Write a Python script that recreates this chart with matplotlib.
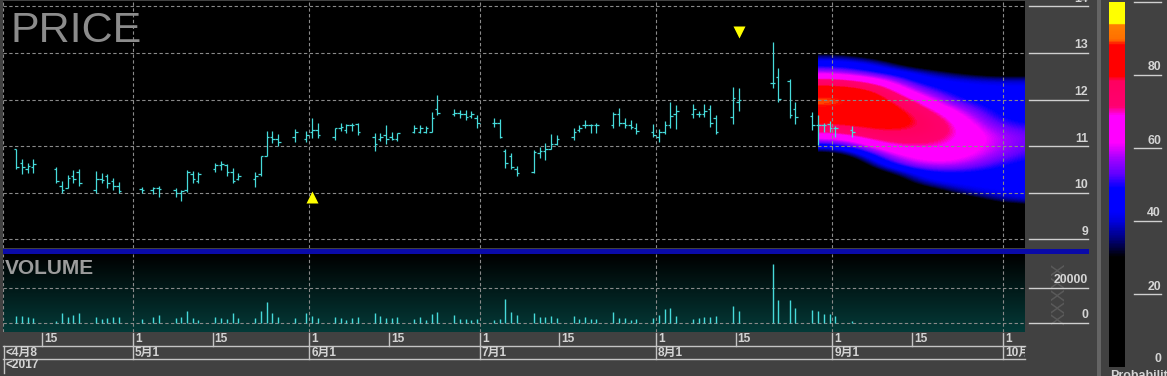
import numpy as np
import matplotlib
matplotlib.use("Agg")
import matplotlib.pyplot as plt
import matplotlib.dates as mdates
import matplotlib.transforms as mtransforms
from matplotlib.colors import LinearSegmentedColormap
from matplotlib.patches import Rectangle
from matplotlib.lines import Line2D

# ---------------- data ----------------
bar_dates = [
    "2017-04-10", "2017-04-11", "2017-04-12", "2017-04-13",
    "2017-04-17", "2017-04-18", "2017-04-19", "2017-04-20", "2017-04-21",
    "2017-04-24", "2017-04-25", "2017-04-26", "2017-04-27", "2017-04-28",
    "2017-05-02", "2017-05-04", "2017-05-05",
    "2017-05-08", "2017-05-09", "2017-05-10", "2017-05-11", "2017-05-12",
    "2017-05-15", "2017-05-16", "2017-05-17", "2017-05-18", "2017-05-19",
    "2017-05-22", "2017-05-23", "2017-05-24", "2017-05-25", "2017-05-26",
    "2017-05-29", "2017-05-31", "2017-06-01", "2017-06-02",
    "2017-06-05", "2017-06-06", "2017-06-07", "2017-06-08", "2017-06-09",
    "2017-06-12", "2017-06-13", "2017-06-14", "2017-06-15", "2017-06-16",
    "2017-06-19", "2017-06-20", "2017-06-21", "2017-06-22", "2017-06-23",
    "2017-06-26", "2017-06-27", "2017-06-28", "2017-06-29", "2017-06-30",
    "2017-07-03", "2017-07-04", "2017-07-05", "2017-07-06", "2017-07-07",
    "2017-07-10", "2017-07-11", "2017-07-12", "2017-07-13", "2017-07-14",
    "2017-07-17", "2017-07-18", "2017-07-19", "2017-07-20", "2017-07-21",
    "2017-07-24", "2017-07-25", "2017-07-26", "2017-07-27", "2017-07-28",
    "2017-07-31", "2017-08-01", "2017-08-02", "2017-08-03", "2017-08-04",
    "2017-08-07", "2017-08-08", "2017-08-09", "2017-08-10", "2017-08-11",
    "2017-08-14", "2017-08-15",
    "2017-08-21", "2017-08-22", "2017-08-24", "2017-08-25",
    "2017-08-28", "2017-08-29", "2017-08-30", "2017-08-31",
    "2017-09-01", "2017-09-04",
]
opens = [
    10.95, 10.65, 10.50, 10.55,
    10.50, 10.15, 10.10, 10.35, 10.45,
    10.05, 10.30, 10.35, 10.25, 10.15,
    10.08, 10.05, 10.10,
    10.05, 10.00, 10.05, 10.40, 10.25,
    10.50, 10.60, 10.60, 10.45, 10.30,
    10.30, 10.40, 10.80, 11.20, 11.15,
    11.20, 11.15, 11.30, 11.35,
    11.20, 11.38, 11.35, 11.45, 11.47,
    11.20, 11.15, 11.25, 11.20, 11.15,
    11.30, 11.30, 11.30, 11.30, 11.80,
    11.70, 11.72, 11.70, 11.65, 11.60,
    11.50, 11.50, 10.90, 10.80, 10.50,
    10.45, 10.85, 10.90, 10.95, 11.05,
    11.20, 11.35, 11.45, 11.45, 11.45,
    11.45, 11.70, 11.50, 11.45, 11.40,
    11.30, 11.20, 11.30, 11.45, 11.70,
    11.70, 11.70, 11.70, 11.80, 11.60,
    11.62, 11.95,
    12.36, 12.49, 12.40, 11.80,
    11.65, 11.45, 11.45, 11.48,
    11.40, 11.35,
]
highs = [
    10.95, 10.72, 10.65, 10.72,
    10.55, 10.25, 10.38, 10.48, 10.52,
    10.47, 10.42, 10.40, 10.32, 10.24,
    10.13, 10.12, 10.14,
    10.10, 10.06, 10.49, 10.47, 10.45,
    10.63, 10.68, 10.62, 10.54, 10.42,
    10.44, 10.80, 11.33, 11.33, 11.26,
    11.36, 11.32, 11.60, 11.49,
    11.40, 11.50, 11.47, 11.49, 11.49,
    11.29, 11.29, 11.45, 11.31, 11.29,
    11.45, 11.45, 11.43, 11.73, 12.10,
    11.80, 11.78, 11.78, 11.75, 11.68,
    11.60, 11.58, 10.93, 10.85, 10.57,
    10.92, 10.99, 11.06, 11.26, 11.23,
    11.40, 11.45, 11.56, 11.47, 11.50,
    11.74, 11.81, 11.61, 11.56, 11.49,
    11.47, 11.37, 11.54, 11.94, 11.88,
    11.90, 11.76, 11.90, 11.88, 11.67,
    12.26, 12.24,
    13.24, 12.67, 12.44, 11.95,
    11.74, 11.67, 11.50, 11.55,
    11.43, 11.43,
]
lows = [
    10.50, 10.40, 10.42, 10.43,
    10.20, 10.00, 10.10, 10.20, 10.15,
    10.00, 10.20, 10.10, 10.06, 10.00,
    9.99, 9.97, 9.90,
    9.92, 9.82, 10.02, 10.22, 10.22,
    10.44, 10.49, 10.37, 10.20, 10.27,
    10.13, 10.35, 10.78, 11.06, 11.00,
    11.10, 11.10, 11.18, 11.18,
    11.13, 11.33, 11.29, 11.33, 11.23,
    10.90, 11.11, 11.05, 11.13, 11.12,
    11.28, 11.28, 11.28, 11.30, 11.68,
    11.65, 11.60, 11.56, 11.60, 11.40,
    11.42, 11.18, 10.54, 10.52, 10.37,
    10.42, 10.75, 10.70, 10.94, 11.03,
    11.13, 11.30, 11.40, 11.29, 11.29,
    11.38, 11.44, 11.40, 11.37, 11.26,
    11.20, 11.10, 11.26, 11.40, 11.37,
    11.60, 11.63, 11.63, 11.42, 11.26,
    11.48, 11.76,
    12.24, 11.95, 11.60, 11.48,
    11.35, 11.03, 11.31, 11.30,
    11.20, 11.20,
]
closes = [
    10.56, 10.55, 10.58, 10.62,
    10.25, 10.05, 10.32, 10.30, 10.20,
    10.30, 10.28, 10.20, 10.15, 10.03,
    10.05, 10.10, 10.08,
    10.00, 10.03, 10.45, 10.30, 10.40,
    10.60, 10.62, 10.45, 10.25, 10.35,
    10.35, 10.78, 11.20, 11.15, 11.10,
    11.30, 11.25, 11.35, 11.25,
    11.38, 11.42, 11.45, 11.45, 11.30,
    11.05, 11.20, 11.15, 11.15, 11.28,
    11.38, 11.40, 11.40, 11.60, 11.72,
    11.72, 11.70, 11.62, 11.70, 11.50,
    11.50, 11.20, 10.65, 10.55, 10.42,
    10.88, 10.90, 10.95, 11.05, 11.15,
    11.30, 11.40, 11.45, 11.45, 11.45,
    11.70, 11.50, 11.45, 11.42, 11.32,
    11.25, 11.30, 11.45, 11.65, 11.75,
    11.80, 11.70, 11.75, 11.50, 11.30,
    12.03, 12.00,
    12.35, 12.01, 11.67, 11.62,
    11.45, 11.45, 11.45, 11.40,
    11.38, 11.30,
]
volumes = [
    3970, 3970, 3570, 2660,
    1200, 5840, 3230, 4530, 5500,
    3570, 2100, 2660, 3230, 3570,
    2100, 3230, 4530,
    2660, 3230, 6970, 2660, 1700,
    3230, 2660, 2100, 5500, 2660,
    2660, 6970, 11700, 5840, 3570,
    2660, 5840, 3970, 2660,
    3230, 2660, 1700, 2660, 3230,
    5840, 3970, 2660, 2660, 3570,
    2100, 3230, 1700, 5180, 6100,
    4530, 2100, 2100, 1700, 2100,
    1700, 2100, 13400, 6100, 4530,
    5500, 3230, 3230, 3970, 2660,
    3970, 2100, 3230, 2100, 2100,
    6100, 2660, 2660, 1700, 2100,
    2660, 4530, 8100, 8700, 4150,
    2100, 2660, 3230, 3230, 4150,
    9630, 6800,
    33300, 13000, 13000, 8300,
    7370, 6800, 5100, 5100,
    3970, 1130,
]

buy_signal_date, buy_signal_price = "2017-06-01", 9.91
sell_signal_date, sell_signal_price = "2017-08-15", 13.45

# forecast probability field (percent), columns = dates, rows = price levels
heat_dates = ["2017-09-02", "2017-09-09", "2017-09-16", "2017-09-23", "2017-09-30", "2017-10-07"]
heat_prices = [13.4, 13.2, 13.0, 12.8, 12.6, 12.4, 12.2, 12.0, 11.8, 11.6, 11.4,
               11.2, 11.0, 10.8, 10.6, 10.4, 10.2, 10.0, 9.8, 9.6, 9.4]
prob_0902 = [0, 0, 30, 44, 56, 74, 84, 91, 88, 84, 77, 66, 46, 22, 0, 0, 0, 0, 0, 0, 0]
prob_0909 = [0, 0, 15, 40, 46, 66, 80, 84, 86, 85, 82, 76, 68, 55, 44, 22, 0, 0, 0, 0, 0]
prob_0916 = [0, 0, 0, 15, 40, 45, 55, 68, 76, 80, 80, 76, 71, 66, 60, 46, 40, 12, 0, 0, 0]
prob_0923 = [0, 0, 0, 5, 28, 42, 45, 48, 58, 66, 70, 70, 68, 65, 60, 48, 44, 38, 12, 0, 0]
prob_0930 = [0, 0, 0, 0, 18, 40, 44, 45, 46, 48, 53, 58, 58, 56, 50, 46, 44, 43, 36, 8, 0]
prob_1007 = [0, 0, 0, 0, 20, 40, 44, 45, 45, 46, 50, 53, 52, 49, 46, 44, 44, 43, 40, 15, 0]

price_ticks = [9, 10, 11, 12, 13, 14]
volume_ticks = [0, 20000]
prob_ticks = [0, 20, 40, 60, 80, 100]

# ---------------- layout helpers ----------------
W, H = 1167, 376
BG = "#414141"
CYAN = "#46dada"
GRID = "#8a8a8a"
LABEL = "#d4d4d4"
FONT = ["Liberation Sans", "Noto Sans CJK SC", "DejaVu Sans"]


def rect(l, t, r, b):
    return [l / W, 1 - b / H, (r - l) / W, (b - t) / H]


def fx(px):
    return px / W


def fy(py):
    return 1 - py / H


PX_PER_DAY = 5.686
may1 = mdates.date2num(np.datetime64("2017-05-01"))
x_left = may1 - (133 - 3) / PX_PER_DAY
x_right = x_left + (1025 - 3) / PX_PER_DAY

fig = plt.figure(figsize=(W / 100, H / 100), dpi=100, facecolor=BG)

ax_p = fig.add_axes(rect(3, 1, 1025, 248))
ax_v = fig.add_axes(rect(3, 254, 1025, 332))
ax_cb = fig.add_axes(rect(1109, 2, 1125, 367))

for ax in (ax_p, ax_v, ax_cb):
    for s in ax.spines.values():
        s.set_visible(False)
    ax.set_xticks([])
    ax.set_yticks([])

ax_p.set_facecolor("black")

xd = mdates.date2num(np.array(bar_dates, dtype="datetime64[D]")) + 0.5
o = np.array(opens)
h = np.array(highs)
l = np.array(lows)
c = np.array(closes)
v = np.array(volumes)

# colormap from the reference legend
prob_cmap = LinearSegmentedColormap.from_list("prob", [
    (0.00, "#000000"), (0.30, "#000000"), (0.345, "#000070"), (0.40, "#0000e0"),
    (0.425, "#0000ff"), (0.49, "#0000ff"), (0.53, "#6400ff"), (0.57, "#a000ff"),
    (0.615, "#ff00ff"), (0.69, "#ff00ff"), (0.715, "#ff0070"), (0.785, "#ff0060"),
    (0.80, "#ff0000"), (0.885, "#ff0000"), (0.90, "#ff7000"), (0.94, "#ff8000"),
    (0.945, "#ffff00"), (1.00, "#ffff00"),
])

# ---------------- price panel ----------------
hd = mdates.date2num(np.array(heat_dates, dtype="datetime64[D]"))
hstep = hd[1] - hd[0]
pstep = heat_prices[0] - heat_prices[1]
grid = np.column_stack([prob_0902, prob_0909, prob_0916, prob_0923, prob_0930, prob_1007])
ax_p.imshow(grid, cmap=prob_cmap, vmin=0, vmax=100, interpolation="bicubic",
            extent=[hd[0] - hstep / 2, hd[-1] + hstep / 2,
                    heat_prices[-1] - pstep / 2, heat_prices[0] + pstep / 2],
            aspect="auto", origin="upper", zorder=1)

month_starts = [np.datetime64(f"2017-{m:02d}-01") for m in range(5, 11)]
ms_num = mdates.date2num(np.array(month_starts))
for ax in (ax_p, ax_v):
    for xm in ms_num:
        ax.axvline(xm, color=GRID, lw=0.8, ls=(0, (3, 2.2)), zorder=2)
    ax.axvline(x_left + 0.05, color=GRID, lw=0.8, ls=(0, (3, 2.2)), zorder=2)
for yt in price_ticks:
    ax_p.axhline(yt, color=GRID, lw=0.8, ls=(0, (3, 2.2)), zorder=2)

tw = 0.45
ax_p.vlines(xd, l, h, color=CYAN, lw=0.9, zorder=3)
ax_p.hlines(o, xd - tw, xd, color=CYAN, lw=0.9, zorder=3)
ax_p.hlines(c, xd, xd + tw, color=CYAN, lw=0.9, zorder=3)

ax_p.plot(mdates.date2num(np.datetime64(buy_signal_date)) + 0.5, buy_signal_price,
          marker="^", color="#ffff00", ms=8, mec="none", zorder=4)
ax_p.plot(mdates.date2num(np.datetime64(sell_signal_date)) + 0.5, sell_signal_price,
          marker="v", color="#ffff00", ms=8, mec="none", zorder=4)

ax_p.set_xlim(x_left, x_right)
ax_p.set_ylim(13 - (248 - 53) / 46.6, 13 + (53 - 1) / 46.6)

fig.text(fx(10), fy(42), "PRICE", family=FONT, fontsize=31, color="#8c8c8c",
         va="baseline", ha="left")

# ---------------- volume panel ----------------
vcmap = LinearSegmentedColormap.from_list("vbg", ["#000000", "#043a38"])
ax_v.imshow(np.linspace(0, 1, 128).reshape(-1, 1), cmap=vcmap, extent=(0, 1, 0, 1),
            transform=ax_v.transAxes, aspect="auto", origin="upper", zorder=0)
for yt in volume_ticks:
    ax_v.axhline(yt, color=GRID, lw=0.8, ls=(0, (3, 2.2)), zorder=2)
ax_v.vlines(xd, 0, v, color=CYAN, lw=1.0, zorder=3)
ax_v.set_xlim(x_left, x_right)
ax_v.set_ylim(-(332 - 323) / 35.3 * 20000, (323 - 254) / 35.3 * 20000)
fig.text(fx(5), fy(274), "VOLUME", family=FONT, fontsize=15, weight="bold",
         color="#9c9c9c", va="baseline", ha="left")

# separator between panels
fig.add_artist(Rectangle((fx(3), fy(254)), fx(1089) - fx(3), 5 / H,
                         transform=fig.transFigure, color="#0a0aa8", lw=0))
# divider before legend
fig.add_artist(Rectangle((fx(1097), 0), 3.5 / W, 1, transform=fig.transFigure,
                         color="#646464", lw=0))

# ---------------- right value axes ----------------
def right_axis(ax, ticks, labels, x0, x1, lines=True):
    tr = mtransforms.blended_transform_factory(fig.transFigure, ax.transData)
    for t, lab in zip(ticks, labels):
        if lines:
            fig.add_artist(Line2D([fx(x0), fx(x1)], [t, t], transform=tr,
                                  color="#cfcfcf", lw=1.0))
        txt_tr = mtransforms.offset_copy(tr, fig=fig, x=0, y=1.5, units="dots")
        fig.text(fx(x1), t, lab, transform=txt_tr, ha="right", va="bottom",
                 family=FONT, fontsize=8.8, weight="bold", color=LABEL)


# faint unit watermark behind the volume scale
fig.text(fx(1060), fy(294), "XXXXX", rotation=90, ha="center", va="center",
         family=FONT, fontsize=13.5, color="#5a5a5a", zorder=0)
right_axis(ax_p, price_ticks, [str(t) for t in price_ticks], 1029, 1088)
right_axis(ax_v, volume_ticks, [str(t) for t in volume_ticks], 1029, 1088)

# ---------------- legend colour bar ----------------
ax_cb.imshow(np.linspace(100, 0, 400).reshape(-1, 1), cmap=prob_cmap, vmin=0, vmax=100,
             extent=[0, 1, 0, 100], aspect="auto", origin="upper")
ax_cb.set_xlim(0, 1)
ax_cb.set_ylim(0, 100)
tr_cb = mtransforms.blended_transform_factory(fig.transFigure, ax_cb.transData)
for t in prob_ticks:
    if t > 0:
        fig.add_artist(Line2D([fx(1134), fx(1161)], [t, t], transform=tr_cb,
                              color="#cfcfcf", lw=1.0))
    fig.text(fx(1161), t, str(t),
             transform=mtransforms.offset_copy(tr_cb, fig=fig, x=0, y=1.5, units="dots"),
             ha="right", va="bottom", family=FONT, fontsize=8.8, weight="bold", color=LABEL)
fig.text(fx(1110), fy(370.5), "Probability", ha="left", va="top", family=FONT,
         fontsize=9, weight="bold", color=LABEL)

# ---------------- date rows ----------------
tr_d = mtransforms.blended_transform_factory(ax_v.transData, fig.transFigure)
clip = mtransforms.TransformedBbox(mtransforms.Bbox([[fx(3), 0], [fx(1025), 1]]),
                                   fig.transFigure)
LINE = "#c4c4c4"


def date_text(xnum, py, s):
    t = fig.text(xnum, fy(py), s,
                 transform=mtransforms.offset_copy(tr_d, fig=fig, x=2, y=0, units="dots"),
                 ha="left", va="center", family=FONT, fontsize=8.6, weight="bold", color=LABEL)
    t.set_clip_box(clip)
    t.set_clip_on(True)


row1 = []
for m in range(4, 11):
    for d in (1, 15):
        dd = np.datetime64(f"2017-{m:02d}-{d:02d}")
        xn = mdates.date2num(dd)
        if x_left < xn < x_right:
            row1.append((xn, str(d)))
for xn, s in row1:
    fig.add_artist(Line2D([xn, xn], [fy(333), fy(346)], transform=tr_d, color=LINE, lw=1.0))
    date_text(xn, 339.5, s)

fig.add_artist(Line2D([fx(3), fx(1025)], [fy(346), fy(346)], transform=fig.transFigure, color=LINE, lw=1.0))
fig.add_artist(Line2D([fx(3), fx(1025)], [fy(359), fy(359)], transform=fig.transFigure, color=LINE, lw=1.0))
fig.add_artist(Line2D([fx(3.5), fx(3.5)], [fy(346), fy(373)], transform=fig.transFigure, color=LINE, lw=1.0))
date_text(x_left, 352.5, "<4月8")
for dd in month_starts:
    xn = mdates.date2num(dd)
    m = int(str(dd)[5:7])
    fig.add_artist(Line2D([xn, xn], [fy(346), fy(359)], transform=tr_d, color=LINE, lw=1.0))
    date_text(xn, 352.5, f"{m}月1")
date_text(x_left, 365.5, "<2017")

fig.savefig("out.png", dpi=100, facecolor=BG)
